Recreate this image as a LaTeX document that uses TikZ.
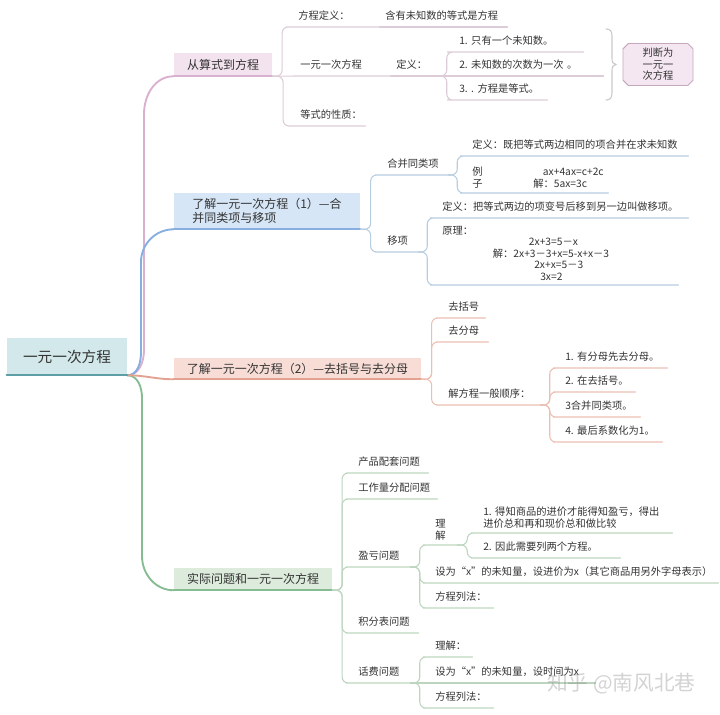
\documentclass[tikz,border=0pt]{standalone}
\usepackage{fontspec}
\setmainfont{Noto Sans CJK SC}
\usetikzlibrary{calc,shapes.misc}
\definecolor{txt}{HTML}{333333}
\definecolor{rootfill}{HTML}{D3E8EA}
\definecolor{rootline}{HTML}{5E9FA6}
\definecolor{pfill}{HTML}{F3E3EE}
\definecolor{pline}{HTML}{DAB0D0}
\definecolor{pleaf}{HTML}{DCCCD7}
\definecolor{bfill}{HTML}{D6E6F6}
\definecolor{bline}{HTML}{86AEDF}
\definecolor{bleaf}{HTML}{B7CDE0}
\definecolor{sfill}{HTML}{F7DDD6}
\definecolor{sline}{HTML}{E3A290}
\definecolor{sleaf}{HTML}{EBC0B3}
\definecolor{gfill}{HTML}{DCEBDC}
\definecolor{gline}{HTML}{86BC92}
\definecolor{gleaf}{HTML}{BDD5BF}
\definecolor{octfill}{HTML}{F5E7F1}
\definecolor{octline}{HTML}{C6A8BD}
\definecolor{brk}{HTML}{C9C9C9}
\newcommand\lfont{\fontsize{7.7pt}{9pt}\selectfont}
\newcommand\ofont{\fontsize{7.7pt}{8.6pt}\selectfont}
\newcommand\mfont{\fontsize{7.7pt}{8.6pt}\selectfont}
\newcommand\tfont{\fontsize{9pt}{10.5pt}\selectfont}
\newcommand\rfont{\fontsize{11pt}{13pt}\selectfont}
\tikzset{
  leaf/.style={anchor=south west, inner xsep=4.5pt, inner ysep=4.3pt, text width=#1, align=left,
    text height=6.8pt, text depth=0.9pt, font=\lfont, text=txt},
  leafm/.style={anchor=south west, inner xsep=4.5pt, inner ysep=3.4pt, text width=#1, align=left,
    font=\lfont, text=txt},
  topic/.style={inner sep=0pt, font=\tfont, text=txt},
  mainbr/.style={line width=1.4pt},
  lk/.style={line width=0.8pt, rounded corners=4.5pt},
  elb/.style={to path={let \p1=(\tikztostart), \p2=(\tikztotarget) in
     -- ({(\x1+\x2)/2},\y1) -- ({(\x1+\x2)/2},\y2) -- (\tikztotarget)}},
}
\begin{document}
\begin{tikzpicture}[x=0.75pt,y=-0.75pt,line cap=round]
\useasboundingbox (0,0) rectangle (720,714);

% ---------- root and main topics ----------
\node[fill=rootfill, minimum width=90pt, minimum height=27.75pt, inner sep=0pt, font=\rfont, text=txt] (root) at (67,356.5) {一元一次方程};
\node[topic, fill=pfill, minimum width=73.5pt, minimum height=17.25pt] (T1) at (223,64.5) {从算式到方程};
\node[topic, fill=bfill, minimum width=139.5pt, minimum height=27pt, align=left] (T2) at (267,211) {了解一元一次方程（1）—合\\并同类项与移项};
\node[topic, fill=sfill, minimum width=185.25pt, minimum height=15.75pt] (T3) at (297.5,368.5) {了解一元一次方程（2）—去括号与去分母};
\node[topic, fill=gfill, minimum width=118.5pt, minimum height=16.5pt] (T4) at (253,579) {实际问题和一元一次方程};

\draw[mainbr, pline] (root.south east) to[out=0,in=-90] (144,350) -- (144,114) to[out=90,in=180] (T1.south west);
\draw[mainbr, bline] (root.south east) to[out=0,in=-90] (141,352) -- (141,262) to[out=90,in=180] (T2.south west);
\draw[mainbr, gline] (root.south east) to[out=0,in=90] (142,398) -- (142,556) to[out=-90,in=180] (T4.south west);
\draw[mainbr, sline] (root.south east) to[out=0,in=180] (T3.south west);
\draw[rootline, line width=1.6pt] (root.south west) -- (root.south east);
\draw[pline, line width=1.4pt] (T1.south west) -- (T1.south east);
\draw[bline, line width=1.4pt] (T2.south west) -- (T2.south east);
\draw[sline, line width=1.4pt] (T3.south west) -- (T3.south east);
\draw[gline, line width=1.4pt] (T4.south west) -- (T4.south east);

% ---------- branch 1 ----------
\node[leaf=56.25pt] (a1) at (292,27) {方程定义：};
\node[leaf=87pt] (a1a) at (379,27) {含有未知数的等式是方程};
\node[leaf=63pt] (a2) at (294,76) {一元一次方程};
\node[leaf=28.5pt] (a2a) at (390,76) {定义：};
\node[leaf=44.25pt] (a3) at (294,126) {等式的性质：};
\node[leaf=88.5pt] (d1) at (453,52) {1.~只有一个未知数。};
\node[leaf=103.5pt] (d2) at (453,76) {2.~未知数的次数为一次~。};
\node[leaf=61.5pt] (d3) at (453,100) {3.~.~方程是等式。};

\draw[lk, pleaf] (T1.south east) to[elb] (a1.south west) -- (a1.south east);
\draw[lk, pleaf] (a1.south east) -- (a1a.south west) -- (a1a.south east);
\draw[lk, pleaf] (T1.south east) -- (a2.south west) -- (a2.south east);
\draw[lk, pleaf] (a2.south east) -- (a2a.south west) -- (a2a.south east);
\draw[lk, pleaf] (T1.south east) to[elb] (a3.south west) -- (a3.south east);
\draw[lk, pleaf] (a2a.south east) to[elb] (d1.south west) -- (d1.south east);
\draw[lk, pleaf] (a2a.south east) -- (d2.south west) -- (d2.south east);
\draw[lk, pleaf] (a2a.south east) to[elb] (d3.south west) -- (d3.south east);

\draw[brk, line width=0.8pt] (606,29) .. controls (610,29) and (612,31) .. (612,36) -- (612,58)
  .. controls (612,62) and (613,64.5) .. (616,64.5)
  .. controls (613,64.5) and (612,67) .. (612,71) -- (612,93)
  .. controls (612,98) and (610,100) .. (606,100);
\node[chamfered rectangle, chamfered rectangle xsep=2pt, chamfered rectangle ysep=2pt, draw=octline, fill=octfill,
  line width=0.7pt, minimum width=52.5pt, minimum height=31.5pt, inner sep=0pt, align=center,
  font=\ofont, text=txt] (oct) at (658,64.5) {判断为\\一元一\\次方程};

% ---------- branch 2 ----------
\node[leaf=41.25pt] (b1) at (381,175) {合并同类项};
\node[leaf=157.5pt] (b1a) at (466,156) {定义：既把等式两边相同的项合并在求未知数};
\node[leafm=97.5pt] (b1b) at (466,193) {\makebox[53pt][l]{例}ax+4ax=c+2c\\\makebox[45.75pt][l]{子}解：5ax=3c};
\node[leaf=18.75pt] (b2) at (381,252) {移项};
\node[leaf=180pt] (b2a) at (436,218) {定义：把等式两边的项变号后移到另一边叫做移项。};
\node[leafm=172.5pt, font=\mfont] (b2b) at (436,285) {原理：\\
\hspace*{65pt}2x+3=5－x\\
\hspace*{38pt}解：2x+3－3+x=5-x+x－3\\
\hspace*{69pt}2x+x=5－3\\
\hspace*{73.5pt}3x=2};

\draw[lk, bleaf] (T2.south east) to[elb] (b1.south west) -- (b1.south east);
\draw[lk, bleaf] (T2.south east) to[elb] (b2.south west) -- (b2.south east);
\draw[lk, bleaf] (b1.south east) to[elb] (b1a.south west) -- (b1a.south east);
\draw[lk, bleaf] (b1.south east) to[elb] (b1b.south west) -- (b1b.south east);
\draw[lk, bleaf] (b2.south east) to[elb] (b2a.south west) -- (b2a.south east);
\draw[lk, bleaf] (b2.south east) to[elb] (b2b.south west) -- (b2b.south east);

% ---------- branch 3 ----------
\node[leaf=23.25pt] (e1) at (442,318) {去括号};
\node[leaf=25.5pt] (e2) at (442,342) {去分母};
\node[leaf=64.5pt] (e3) at (442,405) {解方程一般顺序：};
\node[leaf=72pt] (f1) at (559,368) {1.~有分母先去分母。};
\node[leaf=48pt] (f2) at (559,392) {2.~在去括号。};
\node[leaf=51.75pt] (f3) at (559,417) {3合并同类项。};
\node[leaf=68.25pt] (f4) at (559,442) {4.~最后系数化为1。};

\draw[lk, sleaf] (T3.south east) to[elb] (e1.south west) -- (e1.south east);
\draw[lk, sleaf] (T3.south east) to[elb] (e2.south west) -- (e2.south east);
\draw[lk, sleaf] (T3.south east) to[elb] (e3.south west) -- (e3.south east);
\draw[lk, sleaf] (e3.south east) to[elb] (f1.south west) -- (f1.south east);
\draw[lk, sleaf] (e3.south east) to[elb] (f2.south west) -- (f2.south east);
\draw[lk, sleaf] (e3.south east) to[elb] (f3.south west) -- (f3.south east);
\draw[lk, sleaf] (e3.south east) to[elb] (f4.south west) -- (f4.south east);

% ---------- branch 4 ----------
\node[leaf=48pt] (g1) at (352,473) {产品配套问题};
\node[leaf=54.75pt] (g2) at (352,499) {工作量分配问题};
\node[leaf=34.5pt] (g3) at (352,567) {盈亏问题};
\node[leafm=12pt] (h1) at (429,545) {理\\解};
\node[leafm=137.25pt] (i1) at (477,533) {1.~得知商品的进价才能得知盈亏，得出\\进价总和再和现价总和做比较};
\node[leaf=98.25pt] (i2) at (477,558) {2.~因此需要列两个方程。};
\node[leaf=207.75pt] (h2) at (429,583) {设为“x”的未知量，设进价为x（其它商品用另外字母表示）};
\node[leaf=39pt] (h3) at (429,608) {方程列法：};
\node[leaf=40.5pt] (g4) at (352,633) {积分表问题};
\node[leaf=34.5pt] (g5) at (352,683) {话费问题};
\node[leaf=23.25pt] (k1) at (429,657) {理解：};
\node[leaf=115.5pt] (k2) at (429,683) {设为“x”的未知量，设时间为x};
\node[leaf=39pt] (k3) at (429,708) {方程列法：};

\draw[lk, gleaf] (T4.south east) to[elb] (g1.south west) -- (g1.south east);
\draw[lk, gleaf] (T4.south east) to[elb] (g2.south west) -- (g2.south east);
\draw[lk, gleaf] (T4.south east) to[elb] (g3.south west) -- (g3.south east);
\draw[lk, gleaf] (T4.south east) to[elb] (g4.south west) -- (g4.south east);
\draw[lk, gleaf] (T4.south east) to[elb] (g5.south west) -- (g5.south east);
\draw[lk, gleaf] (g3.south east) to[elb] (h1.south west) -- (h1.south east);
\draw[lk, gleaf] (g3.south east) to[elb] (h2.south west) -- (h2.south east);
\draw[lk, gleaf] (g3.south east) to[elb] (h3.south west) -- (h3.south east);
\draw[lk, gleaf] (h1.south east) to[elb] (i1.south west) -- (i1.south east);
\draw[lk, gleaf] (h1.south east) to[elb] (i2.south west) -- (i2.south east);
\draw[lk, gleaf] (g5.south east) to[elb] (k1.south west) -- (k1.south east);
\draw[lk, gleaf] (g5.south east) -- (k2.south west) -- (k2.south east);
\draw[lk, gleaf] (g5.south east) to[elb] (k3.south west) -- (k3.south east);

% ---------- watermark ----------
\node[anchor=west, text=gray, opacity=0.35, inner sep=0pt, font=\fontsize{15.5pt}{17pt}\selectfont] (wm) at (547,684) {知乎 @南风北巷};
\end{tikzpicture}
\end{document}
